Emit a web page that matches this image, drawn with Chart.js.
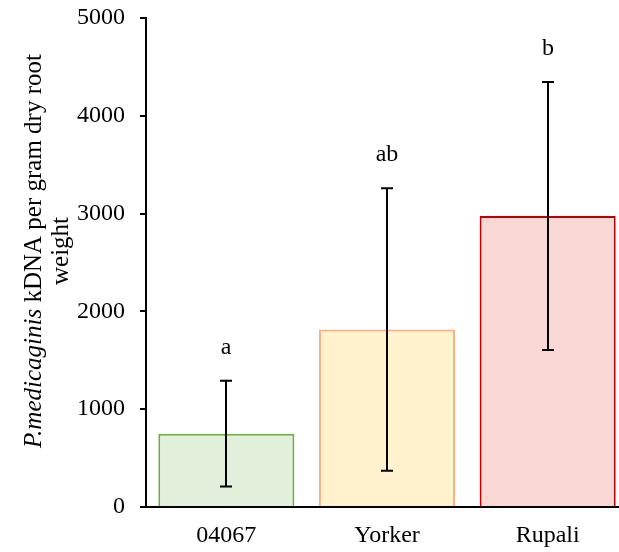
<!DOCTYPE html>
<html>
<head>
<meta charset="utf-8">
<script src="https://cdn.jsdelivr.net/npm/chart.js"></script>
<style>
  html, body { margin: 0; padding: 0; background: #fff; overflow: hidden; }
  #wrap { width: 628px; height: 552px; }
</style>
</head>
<body>
<div id="wrap"><canvas id="kdnaChart"></canvas></div>
<script>
var cultivars = ['04067', 'Yorker', 'Rupali'];
var meanKdna = [750, 1815, 2975];
var sdKdna = [540, 1445, 1370];
var groupLetters = ['a', 'ab', 'b'];
var yTicks = [0, 1000, 2000, 3000, 4000, 5000];

var fillColors = ['#e2efda', '#fff2cc', '#f9d7d5'];
var edgeColors = ['#70ad47', '#f4b183', '#c00000'];

var serif = '"Liberation Serif", "Times New Roman", serif';
var fontSize = 24;

// whiskers + significance letters on top of bars
var errorBars = {
  id: 'errorBars',
  afterDatasetsDraw: function (chart) {
    var ctx = chart.ctx;
    var y = chart.scales.y;
    var bars = chart.getDatasetMeta(0).data;
    ctx.save();
    ctx.strokeStyle = '#000';
    ctx.lineWidth = 2;
    ctx.fillStyle = '#000';
    ctx.font = fontSize + 'px ' + serif;
    ctx.textAlign = 'center';
    ctx.textBaseline = 'middle';
    bars.forEach(function (bar, i) {
      var top = y.getPixelForValue(meanKdna[i] + sdKdna[i]);
      var bottom = y.getPixelForValue(meanKdna[i] - sdKdna[i]);
      var x = Math.round(bar.x);
      ctx.beginPath();
      ctx.moveTo(x, top);
      ctx.lineTo(x, bottom);
      ctx.moveTo(x - 6, top);
      ctx.lineTo(x + 6, top);
      ctx.moveTo(x - 6, bottom);
      ctx.lineTo(x + 6, bottom);
      ctx.stroke();
      ctx.fillText(groupLetters[i], x, top - 33);
    });
    ctx.restore();
  }
};

// y title with italic species name
var yTitle = {
  id: 'yTitle',
  afterDraw: function (chart) {
    var ctx = chart.ctx;
    var size = 25;
    var italic = 'italic ' + size + 'px ' + serif;
    var upright = size + 'px ' + serif;
    var partA = 'P.medicaginis';
    var partB = ' kDNA per gram dry root';
    ctx.save();
    ctx.translate(34, 251);
    ctx.rotate(-Math.PI / 2);
    ctx.fillStyle = '#000';
    ctx.textBaseline = 'middle';
    ctx.font = italic;
    var wA = ctx.measureText(partA).width;
    ctx.font = upright;
    var wB = ctx.measureText(partB).width;
    var start = -(wA + wB) / 2;
    ctx.textAlign = 'left';
    ctx.font = italic;
    ctx.fillText(partA, start, 0);
    ctx.font = upright;
    ctx.fillText(partB, start + wA, 0);
    ctx.textAlign = 'center';
    ctx.fillText('weight', 0, 27);
    ctx.restore();
  }
};

var ctx = document.getElementById('kdnaChart');
var kdnaChart = new Chart(ctx, {
  type: 'bar',
  data: {
    labels: cultivars,
    datasets: [{
      data: meanKdna,
      backgroundColor: fillColors,
      borderColor: edgeColors,
      borderWidth: 2,
      borderSkipped: 'bottom',
      barPercentage: 0.847,
      categoryPercentage: 1
    }]
  },
  options: {
    responsive: true,
    maintainAspectRatio: false,
    animation: false,
    layout: { padding: { top: 18, right: 0, left: 0, bottom: 0 } },
    plugins: {
      legend: { display: false },
      tooltip: { enabled: false }
    },
    scales: {
      x: {
        grid: { display: false, drawTicks: false },
        border: { display: true, color: '#000', width: 2 },
        ticks: { color: '#000', padding: 14, font: { family: serif, size: fontSize } },
        afterFit: function (scale) {
          scale.height = 45;
          scale.paddingLeft = 0;
          scale.paddingRight = 0;
        }
      },
      y: {
        min: 0,
        max: 5000,
        afterBuildTicks: function (scale) {
          scale.ticks = yTicks.map(function (v) { return { value: v }; });
        },
        grid: { drawOnChartArea: false, drawTicks: true, tickLength: 6, color: '#000', lineWidth: 2 },
        border: { display: true, color: '#000', width: 2 },
        ticks: {
          color: '#000',
          padding: 15,
          font: { family: serif, size: fontSize },
          callback: function (v) { return String(v); }
        },
        afterFit: function (scale) {
          scale.width = 146;
          scale.paddingTop = 0;
          scale.paddingBottom = 0;
        }
      }
    }
  },
  plugins: [errorBars, yTitle]
});
</script>
</body>
</html>
